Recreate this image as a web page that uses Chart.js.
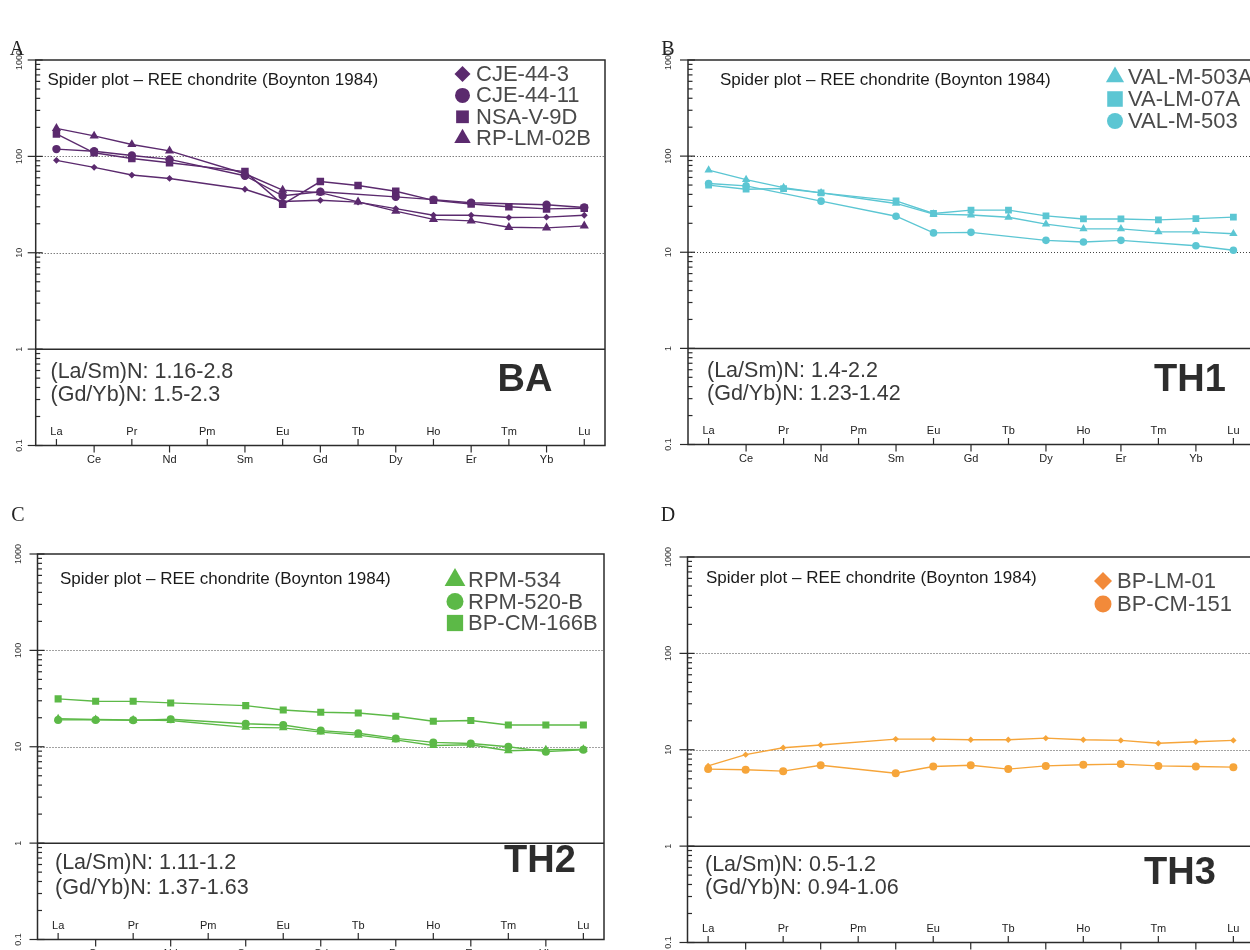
<!DOCTYPE html>
<html>
<head>
<meta charset="utf-8">
<title>REE spider plots</title>
<script src="https://cdn.jsdelivr.net/npm/chart.js@4.4.1/dist/chart.umd.min.js"></script>
<style>
  html, body { margin: 0; padding: 0; background: #fff; overflow: hidden; }
  #page { position: relative; width: 1250px; height: 950px; overflow: hidden; background: #fff; }
  #page canvas { position: absolute; }
</style>
</head>
<body>
<div id="page"></div>
<script>
// x axis: REE in order (Pm has no analyses)
const elements = ["La", "Ce", "Pr", "Nd", "Pm", "Sm", "Eu", "Gd", "Tb", "Dy", "Ho", "Er", "Tm", "Yb", "Lu"];
// y axis decades (chondrite normalised, log)
const decades = [0.1, 1, 10, 100, 1000];
const decadeLabels = ["0.1", "1", "10", "100", "1000"];
const plotTitle = "Spider plot \u2013 REE chondrite (Boynton 1984)";

// A - BA
const baSamples = ["CJE-44-3", "CJE-44-11", "NSA-V-9D", "RP-LM-02B"];
const cje44_3 = [91, 77, 64, 59, null, 45.6, 34, 35, 33.5, 28.7, 24.5, 24.5, 23.2, 23.4, 24.5];
const cje44_11 = [119, 113, 102, 93, null, 63, 39, 43, null, 38, 35.6, 33, null, 31.5, 29.5];
const nsaV9d = [171, 109, 95, 86, null, 69.5, 31.8, 54.8, 49.8, 43.5, 35, 32, 30, 28.5, 29];
const rpLm02b = [195, 163, 133, 114, null, 66, 44.6, 42, 33.7, 27, 22.2, 21.4, 18.4, 18.1, 19];
const baRatios = ["(La/Sm)N: 1.16-2.8", "(Gd/Yb)N: 1.5-2.3"];

// B - TH1
const th1Samples = ["VAL-M-503A", "VA-LM-07A", "VAL-M-503"];
const valM503a = [71.5, 57, 47, 41.5, null, 32.2, 24.9, 24.4, 23.1, 19.6, 17.5, 17.5, 16.3, 16.3, 15.6];
const vaLm07a = [49.9, 45.3, 46, 41.5, null, 34.2, 25.3, 27.4, 27.4, 23.9, 22.2, 22.2, 21.7, 22.4, 23.2];
const valM503 = [51.9, 49, null, 34, null, 23.7, 15.9, 16.1, null, 13.3, 12.8, 13.3, null, 11.7, 10.5];
const th1Ratios = ["(La/Sm)N: 1.4-2.2", "(Gd/Yb)N: 1.23-1.42"];

// C - TH2
const th2Samples = ["RPM-534", "RPM-520-B", "BP-CM-166B"];
const rpm534 = [19.5, 19.2, 19.0, 18.7, null, 15.9, 15.7, 14.2, 13.2, 11.8, 10.3, 10.5, 9.1, 9.3, 9.4];
const rpm520b = [19.0, 19.0, 18.8, 19.3, null, 17.3, 16.8, 14.7, 13.8, 12.2, 11.1, 10.8, 10.0, 8.9, 9.3];
const bpCm166b = [31.4, 29.7, 29.6, 28.5, null, 26.7, 24.1, 22.8, 22.4, 20.7, 18.4, 18.7, 16.8, 16.8, 16.8];
const th2Ratios = ["(La/Sm)N: 1.11-1.2", "(Gd/Yb)N: 1.37-1.63"];

// D - TH3
const th3Samples = ["BP-LM-01", "BP-CM-151"];
const bpLm01 = [6.8, 8.9, 10.5, 11.2, null, 12.9, 12.9, 12.7, 12.7, 13.2, 12.7, 12.5, 11.7, 12.1, 12.5];
const bpCm151 = [6.3, 6.2, 6.0, 6.9, null, 5.7, 6.7, 6.9, 6.3, 6.8, 7.0, 7.1, 6.8, 6.7, 6.6];
const th3Ratios = ["(La/Sm)N: 0.5-1.2", "(Gd/Yb)N: 0.94-1.06"];

const FONT = "'Liberation Sans', Arial, sans-serif";
const INK = "#2b2b2b";

// page layout of each panel (canvas box + plot area, in page pixels)
const panels = [
  {
    letter: "A", group: "BA", box: [0, 0, 625, 475], area: [35.7, 60, 605, 445.5],
    letterPos: [17, 50], titlePos: [47.5, 80], yLabelGap: 16,
    legend: { mx: 462.5, tx: 476, y: 74, step: 21.4 },
    ratioPos: [50.5, 372, 395], groupPos: [525, 380],
    color: "#5b2a6e",
    series: [
      { name: baSamples[0], values: cje44_3, style: "rectRot", r: 3.4, lr: 8 },
      { name: baSamples[1], values: cje44_11, style: "circle", r: 4.2, lr: 7.5 },
      { name: baSamples[2], values: nsaV9d, style: "rect", r: 5.3, lr: 9 },
      { name: baSamples[3], values: rpLm02b, style: "triangle", r: 5.3, lr: 9.5 }
    ],
    ratios: baRatios
  },
  {
    letter: "B", group: "TH1", box: [630, 0, 640, 475], area: [688, 60, 1254, 444.5],
    letterPos: [668, 50], titlePos: [720, 80], yLabelGap: 19,
    legend: { mx: 1115, tx: 1128, y: 77, step: 22 },
    ratioPos: [707, 371, 394], groupPos: [1190, 380],
    color: "#5cc6d3",
    series: [
      { name: th1Samples[0], values: valM503a, style: "triangle", r: 4.8, lr: 10.5 },
      { name: th1Samples[1], values: vaLm07a, style: "rect", r: 4.8, lr: 11 },
      { name: th1Samples[2], values: valM503, style: "circle", r: 3.8, lr: 8 }
    ],
    ratios: th1Ratios
  },
  {
    letter: "C", group: "TH2", box: [0, 475, 625, 475], area: [37.5, 554, 604, 939.5],
    letterPos: [18, 516], titlePos: [60, 579], yLabelGap: 19,
    legend: { mx: 455, tx: 468, y: 580, step: 21.5 },
    ratioPos: [55, 863, 888], groupPos: [540, 861],
    color: "#5cb947",
    series: [
      { name: th2Samples[0], values: rpm534, style: "triangle", r: 5, lr: 12 },
      { name: th2Samples[1], values: rpm520b, style: "circle", r: 4, lr: 8.5 },
      { name: th2Samples[2], values: bpCm166b, style: "rect", r: 5, lr: 11.5 }
    ],
    ratios: th2Ratios
  },
  {
    letter: "D", group: "TH3", box: [630, 475, 640, 475], area: [687.5, 557, 1254, 942.5],
    letterPos: [668, 516], titlePos: [706, 578], yLabelGap: 19,
    legend: { mx: 1103, tx: 1117, y: 581, step: 23 },
    ratioPos: [705, 865, 888], groupPos: [1180, 873],
    color: "#f6a53a", legendColor: "#f28a3a",
    series: [
      { name: th3Samples[0], values: bpLm01, style: "rectRot", r: 3.2, lr: 9 },
      { name: th3Samples[1], values: bpCm151, style: "circle", r: 4, lr: 8.5 }
    ],
    ratios: th3Ratios
  }
];

function marker(ctx, style, radius, x, y) {
  if (Chart.helpers && Chart.helpers.drawPoint) {
    Chart.helpers.drawPoint(ctx, { pointStyle: style, radius: radius, rotation: 0, borderWidth: 0 }, x, y);
    return;
  }
  ctx.beginPath();
  ctx.arc(x, y, radius, 0, Math.PI * 2);
  ctx.fill();
}

// frame, axes, ticks, legend and notes drawn on top of the chart
function decor(p) {
  const ox = p.box[0], oy = p.box[1];
  return {
    id: "decor" + p.letter,
    beforeDatasetsDraw(chart) {
      const ctx = chart.ctx, a = chart.chartArea, ys = chart.scales.y;
      ctx.save();
      ctx.strokeStyle = "#444";
      ctx.lineWidth = 1;
      ctx.setLineDash([1, 2]);
      decades.filter((v) => v > 1 && v < 1000).forEach((v) => {
        const py = Math.round(ys.getPixelForValue(v)) + 0.5;
        ctx.beginPath();
        ctx.moveTo(a.left, py);
        ctx.lineTo(a.right, py);
        ctx.stroke();
      });
      ctx.restore();
    },
    afterDatasetsDraw(chart) {
      const ctx = chart.ctx, a = chart.chartArea, xs = chart.scales.x, ys = chart.scales.y;
      ctx.save();

      //Frame and the solid line at 1
      ctx.strokeStyle = INK;
      ctx.lineWidth = 1.5;
      ctx.strokeRect(a.left, a.top, a.right - a.left, a.bottom - a.top);
      const one = ys.getPixelForValue(1);
      ctx.beginPath();
      ctx.moveTo(a.left, one);
      ctx.lineTo(a.right, one);
      ctx.stroke();

      //y ticks: major at decades, minor inside
      ctx.lineWidth = 1.2;
      decades.forEach((d, i) => {
        const py = ys.getPixelForValue(d);
        ctx.beginPath();
        ctx.moveTo(a.left - 8, py);
        ctx.lineTo(a.left + 7, py);
        ctx.stroke();
        if (d < 1000) {
          for (let k = 2; k <= 9; k++) {
            const my = ys.getPixelForValue(d * k);
            ctx.beginPath();
            ctx.moveTo(a.left, my);
            ctx.lineTo(a.left + 4.5, my);
            ctx.stroke();
          }
        }
        ctx.save();
        ctx.translate(a.left - p.yLabelGap, py);
        ctx.rotate(-Math.PI / 2);
        ctx.fillStyle = "#333";
        ctx.font = "9px " + FONT;
        ctx.textAlign = "center";
        ctx.textBaseline = "middle";
        ctx.fillText(decadeLabels[i], 0, 0);
        ctx.restore();
      });

      //x ticks: alternate inside / outside rows
      ctx.fillStyle = "#222";
      ctx.font = "11px " + FONT;
      ctx.textAlign = "center";
      ctx.textBaseline = "middle";
      elements.forEach((el, i) => {
        const px = xs.getPixelForValue(i);
        const inside = i % 2 === 0;
        ctx.beginPath();
        ctx.moveTo(px, a.bottom);
        ctx.lineTo(px, inside ? a.bottom - 6.5 : a.bottom + 7);
        ctx.stroke();
        ctx.fillText(el, px, inside ? a.bottom - 14 : a.bottom + 14.5);
      });

      //Title
      ctx.fillStyle = "#1a1a1a";
      ctx.textAlign = "left";
      ctx.font = "17px " + FONT;
      ctx.fillText(plotTitle, p.titlePos[0] - ox, p.titlePos[1] - oy);

      //Legend
      ctx.font = "22px " + FONT;
      p.series.forEach((s, i) => {
        const ly = p.legend.y + i * p.legend.step - oy;
        ctx.fillStyle = p.legendColor || p.color;
        marker(ctx, s.style, s.lr, p.legend.mx - ox, ly);
        ctx.fillStyle = "#4a4a4a";
        ctx.fillText(s.name, p.legend.tx - ox, ly + 1);
      });

      //Ratios and group name
      ctx.fillStyle = "#3a3a3a";
      ctx.font = "21.5px " + FONT;
      ctx.fillText(p.ratios[0], p.ratioPos[0] - ox, p.ratioPos[1] - oy);
      ctx.fillText(p.ratios[1], p.ratioPos[0] - ox, p.ratioPos[2] - oy);
      ctx.fillStyle = "#2d2d2d";
      ctx.font = "bold 38px " + FONT;
      ctx.textAlign = "center";
      ctx.fillText(p.group, p.groupPos[0] - ox, p.groupPos[1] - oy + 1);

      //Panel letter
      ctx.fillStyle = "#222";
      ctx.font = "20px 'Liberation Serif', 'Times New Roman', serif";
      ctx.fillText(p.letter, p.letterPos[0] - ox, p.letterPos[1] - oy);
      ctx.restore();
    }
  };
}

const page = document.getElementById("page");
panels.forEach((p) => {
  const canvas = document.createElement("canvas");
  canvas.width = p.box[2];
  canvas.height = p.box[3];
  canvas.style.left = p.box[0] + "px";
  canvas.style.top = p.box[1] + "px";
  page.appendChild(canvas);

  const datasets = p.series.map((s) => ({
    label: s.name,
    data: s.values.map((v, i) => ({ x: i, y: v })),
    borderColor: p.color,
    backgroundColor: p.color,
    borderWidth: 1.4,
    pointStyle: s.style,
    pointRadius: s.r,
    pointBackgroundColor: p.color,
    pointBorderWidth: 0,
    tension: 0,
    spanGaps: true
  }));

  new Chart(canvas, {
    type: "line",
    data: { datasets: datasets },
    options: {
      responsive: false,
      animation: false,
      events: [],
      layout: {
        padding: {
          left: p.area[0] - p.box[0],
          top: p.area[1] - p.box[1],
          right: p.box[0] + p.box[2] - p.area[2],
          bottom: p.box[1] + p.box[3] - p.area[3]
        }
      },
      plugins: {
        legend: { display: false },
        tooltip: { enabled: false }
      },
      scales: {
        x: { type: "linear", min: -0.55, max: 14.55, display: false },
        y: { type: "logarithmic", min: 0.1, max: 1000, display: false }
      }
    },
    plugins: [decor(p)]
  });
});
</script>
</body>
</html>
